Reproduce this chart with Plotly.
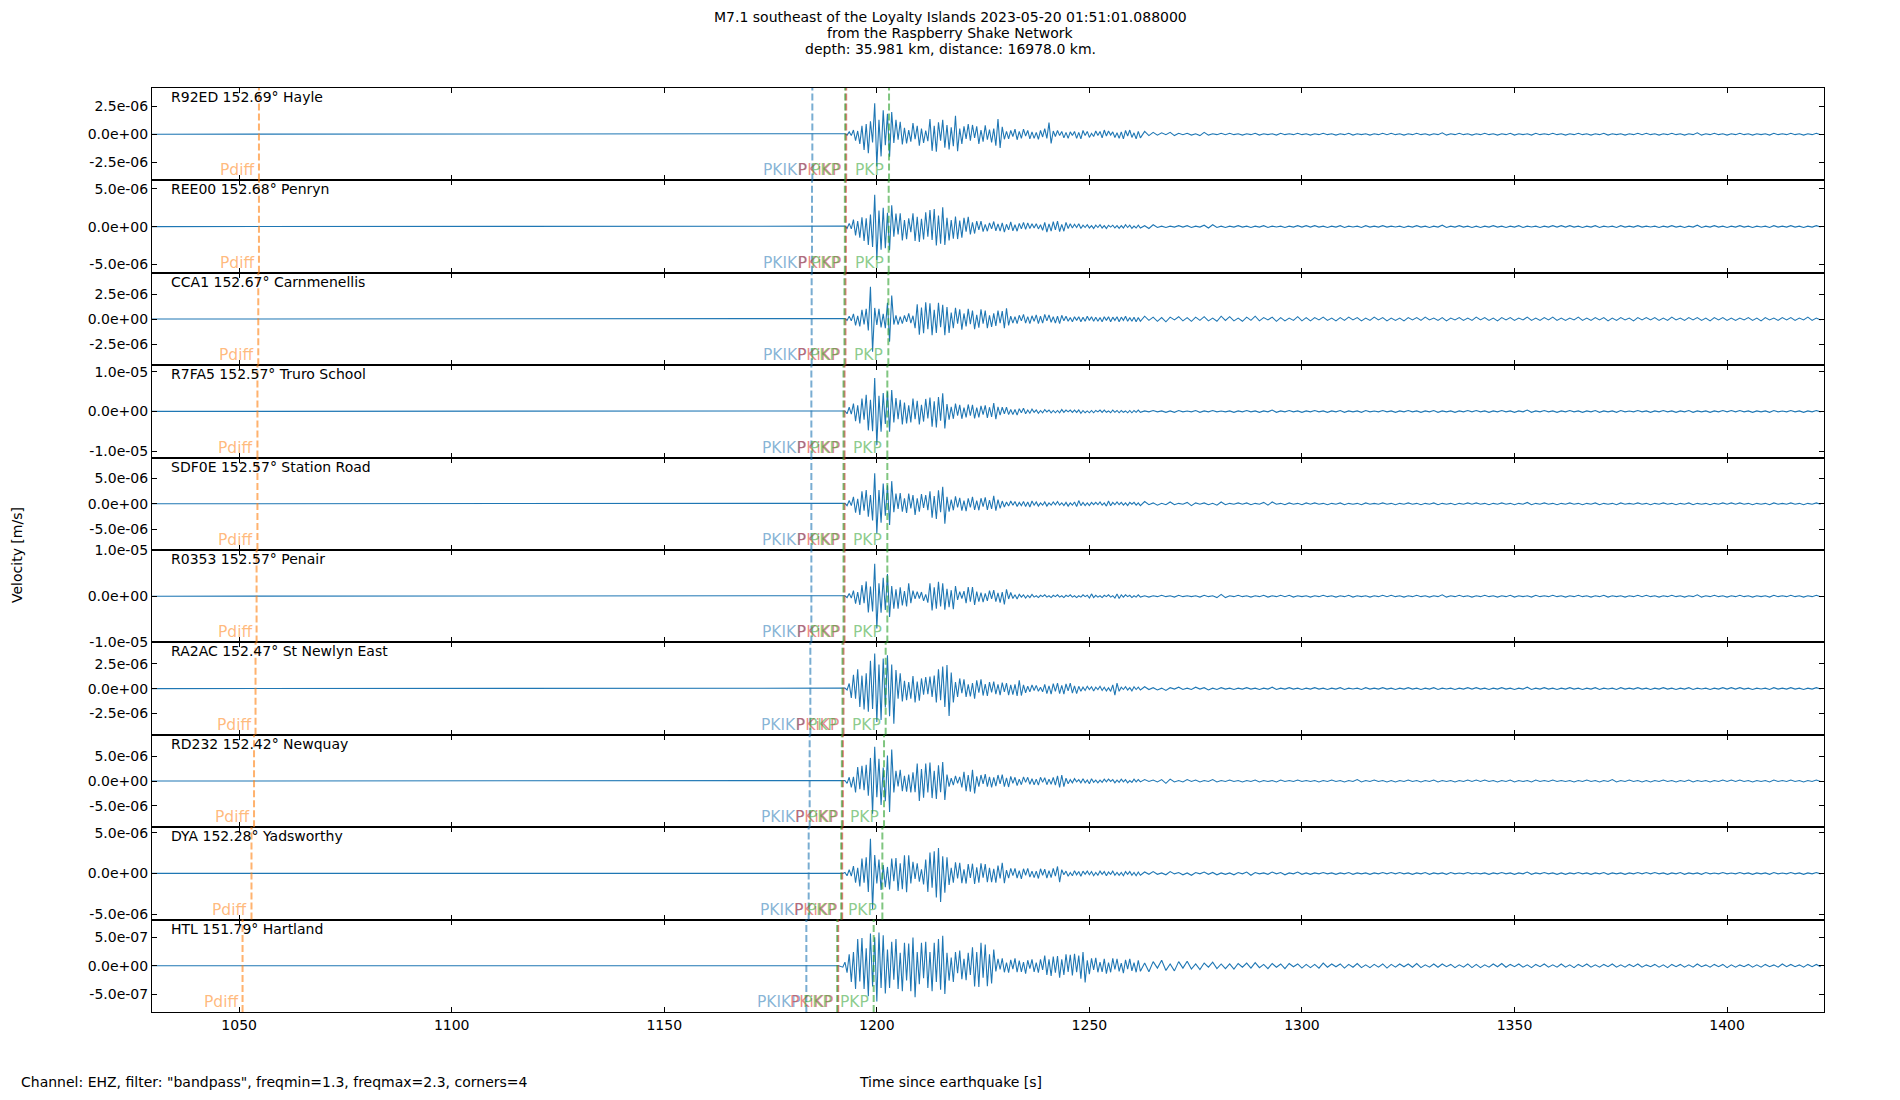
import plotly.graph_objects as go
from plotly.subplots import make_subplots

# ── text ────────────────────────────────────────────────────────────────
TITLE_LINES = [
    "M7.1 southeast of the Loyalty Islands 2023-05-20 01:51:01.088000",
    "from the Raspberry Shake Network",
    "depth: 35.981 km, distance: 16978.0 km.",
]
FOOTNOTE = 'Channel: EHZ, filter: "bandpass", freqmin=1.3, freqmax=2.3, corners=4'
X_TITLE = "Time since earthquake [s]"
Y_TITLE = "Velocity [m/s]"

# ── stations (top to bottom) ────────────────────────────────────────────
STATIONS = ["R92ED", "REE00", "CCA1", "R7FA5", "SDF0E", "R0353", "RA2AC", "RD232", "DYA", "HTL"]
DISTANCES = [152.69, 152.68, 152.67, 152.57, 152.57, 152.57, 152.47, 152.42, 152.28, 151.79]
PLACES = ["Hayle", "Penryn", "Carnmenellis", "Truro School", "Station Road", "Penair",
          "St Newlyn East", "Newquay", "Yadsworthy", "Hartland"]

# half height of each panel's velocity axis [m/s] and its tick step
FULL_SCALE = [4.12e-6, 6.13e-6, 4.62e-6, 1.164e-5, 9.13e-6, 1.003e-5, 4.68e-6, 9.35e-6, 5.68e-6, 8.05e-7]
Y_TICK = [2.5e-6, 5e-6, 2.5e-6, 1e-5, 5e-6, 1e-5, 2.5e-6, 5e-6, 5e-6, 5e-7]

X_RANGE = [1029.5, 1422.8]
X_TICKS = [1050, 1100, 1150, 1200, 1250, 1300, 1350, 1400]

# ── predicted arrivals [s after origin] ─────────────────────────────────
PDIFF_T = [1054.66, 1054.66, 1054.5, 1054.3, 1054.3, 1054.1, 1053.85, 1053.5, 1052.9, 1050.8]
PKIKP_T = [1184.83, 1184.75, 1184.67, 1184.6, 1184.6, 1184.6, 1184.36, 1184.2, 1183.97, 1183.42]
PKIKP_INNER_T = [1192.79, 1192.72, 1192.62, 1192.4, 1192.4, 1192.4, 1192.16, 1192.01, 1191.85, 1190.91]  # PKiKP
PKP1_T = [1192.55, 1192.48, 1192.38, 1192.16, 1192.16, 1192.16, 1191.92, 1191.77, 1191.61, 1190.67]
PKP2_T = [1202.87, 1202.79, 1202.71, 1202.47, 1202.47, 1202.47, 1202.08, 1201.69, 1201.3, 1199.26]

# ── waveforms: signed peaks in % of the panel full scale ────────────────
RECORD_START = 1029.5
QUIET_END = 1191.0                  # record is flat until here
MAIN_START, MAIN_DT = 1192.0, 0.5   # coda, one peak every 0.5 s
TAIL_START, TAIL_DT = 1262.0, 1.0   # late noise, one peak every 1 s

main_R92ED = [
    0, 1, -2, 5, -3, 9, -14, 7, -21, 18,
    -34, 22, -41, 28, -18, 67, -70, 31, -48, 52,
    -24, 44, -49, 48, -19, 31, -12, 27, -22, 14,
    -20, 9, -16, 24, -11, 18, -25, 12, -19, 8,
    -15, 33, -36, 18, -38, 26, -14, 31, -29, 20,
    -33, 15, -26, 40, -37, 12, -21, 17, -10, 22,
    -14, 20, -8, 17, -21, 9, -16, 19, -12, 10,
    -18, 12, -25, 33, -30, 16, -11, 6, -10, 8,
    -5, 11, -12, 6, -9, 11, -4, 8, -10, 5,
    -9, 4, -11, 8, -6, 12, -9, 25, -20, 7,
    -5, 8, -3, 6, -8, 4, -9, 5, -3, 6,
    -9, 4, -10, 8, -3, 6, -7, 2, -5, 7,
    -3, 6, -8, 9, -4, 7, -2, 5, -7, 3,
    -9, 5, -10, 8, -4, 9, -7, 3, -10, 6,
]
tail_R92ED = [
    -8, 6, -3, 4, -2, 3, -1, 4, -3, 2, -1, 2, -2, 1, -3, 4, -2, 1, -1, 2,
    -1, 2, -1, 1, -2, 1, -1, 2, -2, 1, -1, 1, -2, 2, -1, 1, -1, 2, -1, 1,
    -2, 1, -1, 2, -1, 1, -2, 1, -1, 2, -2, 1, -1, 1, -2, 1, -1, 2, -1, 2,
    -1, 1, -2, 1, -1, 2, -1, 1, -2, 1, -1, 3, -2, 1, -1, 2, -1, 1, -2, 1,
    -1, 2, -1, 1, -2, 1, -1, 2, -2, 1, -1, 1, -2, 2, -1, 1, -1, 2, -1, 1,
    -2, 1, -1, 2, -1, 1, -2, 1, -1, 2, -2, 1, -1, 1, -2, 1, -1, 2, -1, 2,
    -1, 1, -2, 1, -1, 2, -1, 1, -2, 1, -1, 3, -2, 1, -1, 2, -1, 1, -2, 1,
    -1, 2, -1, 1, -2, 1, -1, 1, -2, 2, -1, 1, -1, 2, -1, 1, -2, 1, -1, 2, -1,
]

main_REE00 = [
    0, 1, -4, 7, -5, 15, -19, 12, -24, 20,
    -31, 18, -40, 26, -44, 69, -72, 35, -50, 41,
    -47, 30, -51, 46, -22, 28, -17, 29, -30, 14,
    -27, 18, -12, 29, -31, 21, -33, 17, -28, 31,
    -22, 36, -29, 38, -41, 24, -37, 42, -40, 19,
    -30, 14, -26, 22, -27, 13, -24, 19, -11, 21,
    -17, 9, -15, 12, -7, 12, -11, 5, -10, 8,
    -5, 11, -9, 6, -10, 8, -12, 5, -7, 10,
    -9, 4, -10, 7, -5, 9, -6, 8, -4, 6,
    -3, 6, -5, 4, -8, 9, -12, 6, -10, 11,
    -7, 12, -11, 5, -10, 9, -4, 6, -3, 5,
    -2, 6, -4, 3, -2, 4, -3, 2, -4, 3,
    -2, 4, -3, 2, -4, 3, -1, 3, -3, 2,
    -4, 2, -3, 4, -2, 3, -4, 1, -3, 3,
]
tail_REE00 = [
    -3, 2, -4, 4, -2, 1, -2, 1, -1, 2, -1, 2, -2, 1, -1, 3, -3, 4, -2, 1,
    -2, 1, -1, 2, -1, 1, -2, 1, -1, 2, -2, 1, -1, 1, -2, 1, -1, 2, -1, 2,
    -1, 2, -1, 1, -2, 1, -1, 2, -2, 1, -1, 1, -2, 2, -1, 1, -1, 2, -1, 1,
    -1, 1, -2, 1, -1, 2, -1, 1, -2, 1, -1, 3, -2, 1, -1, 2, -1, 1, -2, 1,
    -2, 1, -1, 2, -1, 1, -2, 1, -1, 2, -2, 1, -1, 1, -2, 1, -1, 2, -1, 2,
    -1, 2, -1, 1, -2, 1, -1, 2, -2, 1, -1, 1, -2, 2, -1, 1, -1, 2, -1, 1,
    -1, 1, -2, 1, -1, 2, -1, 1, -2, 1, -1, 3, -2, 1, -1, 2, -1, 1, -2, 1,
    -1, 2, -1, 1, -2, 1, -1, 1, -2, 2, -1, 1, -1, 2, -1, 1, -2, 1, -1, 2, -1,
]

main_CCA1 = [
    0, 1, -3, 6, -4, 11, -14, 7, -16, 20,
    -12, 22, -25, 70, -71, 24, -13, 22, -18, 11,
    -20, 35, -49, 51, -12, 8, -12, 5, -10, 8,
    -6, 12, -9, 7, -20, 32, -34, 25, -31, 36,
    -22, 34, -35, 20, -30, 35, -18, 31, -35, 26,
    -30, 14, -20, 24, -10, 21, -23, 12, -16, 22,
    -11, 18, -22, 9, -19, 21, -10, 18, -20, 8,
    -17, 12, -15, 18, -9, 17, -20, 23, -14, 6,
    -9, 5, -10, 8, -4, 10, -9, 5, -10, 7,
    -5, 9, -10, 6, -9, 10, -4, 9, -7, 5,
    -9, 6, -10, 8, -4, 6, -5, 3, -6, 5,
    -3, 5, -6, 4, -5, 6, -3, 5, -5, 4,
    -5, 3, -6, 5, -3, 5, -6, 4, -3, 5,
    -6, 4, -3, 6, -5, 3, -5, 4, -6, 3,
]
tail_CCA1 = [
    -5, 6, -3, 4, -5, 3, -6, 4, -2, 5, -4, 3, -5, 4, -3, 5, -4, 2, -5, 6,
    -3, 5, -4, 2, -5, 4, -3, 6, -4, 3, -2, 4, -5, 3, -4, 2, -3, 5, -4, 3,
    -4, 3, -2, 4, -3, 2, -4, 3, -3, 4, -2, 3, -4, 2, -3, 4, -2, 3, -4, 2,
    -3, 2, -4, 3, -2, 3, -3, 4, -2, 2, -3, 3, -4, 2, -2, 3, -3, 2, -3, 4,
    -2, 3, -3, 2, -4, 3, -2, 3, -3, 2, -2, 4, -3, 2, -3, 3, -2, 4, -3, 2,
    -3, 2, -2, 4, -3, 2, -3, 3, -2, 3, -4, 2, -3, 3, -2, 2, -4, 3, -2, 3,
    -2, 3, -3, 2, -3, 4, -2, 2, -3, 3, -2, 3, -3, 2, -4, 3, -2, 3, -3, 2,
    -3, 2, -2, 3, -3, 2, -4, 3, -2, 2, -3, 3, -2, 3, -3, 2, -2, 4, -3, 2, -2,
]

main_R7FA5 = [
    0, 1, -5, 9, -6, 17, -21, 13, -26, 28,
    -18, 36, -41, 25, -43, 72, -73, 34, -44, 40,
    -27, 43, -44, 46, -24, 29, -17, 25, -28, 19,
    -26, 13, -24, 28, -17, 23, -28, 14, -22, 27,
    -15, 30, -33, 22, -35, 31, -20, 39, -37, 16,
    -18, 10, -16, 17, -9, 14, -16, 8, -13, 15,
    -9, 14, -15, 8, -13, 12, -7, 13, -14, 9,
    -12, 18, -17, 10, -8, 9, -5, 9, -7, 4,
    -7, 4, -8, 6, -3, 7, -5, 3, -4, 5,
    -2, 3, -4, 2, -3, 4, -1, 3, -3, 2,
    -3, 2, -3, 4, -2, 3, -1, 3, -2, 3,
    -2, 3, -4, 2, -3, 1, -3, 2, -3, 2,
    -1, 3, -2, 3, -2, 1, -3, 3, -2, 2,
    -3, 2, -2, 1, -3, 2, -3, 2, -2, 3,
]
tail_R7FA5 = [
    -2, 1, -1, 2, -1, 1, -2, 1, -2, 2, -1, 1, -1, 2, -2, 1, -1, 2, -1, 1,
    -1, 1, -2, 1, -1, 2, -1, 1, -2, 1, -1, 3, -2, 1, -1, 2, -1, 1, -2, 1,
    -1, 2, -1, 1, -2, 1, -1, 2, -2, 1, -1, 1, -2, 2, -1, 1, -1, 2, -1, 1,
    -2, 1, -1, 2, -1, 1, -2, 1, -1, 2, -2, 1, -1, 1, -2, 1, -1, 2, -1, 2,
    -1, 1, -2, 1, -1, 2, -1, 1, -2, 1, -1, 3, -2, 1, -1, 2, -1, 1, -2, 1,
    -1, 2, -1, 1, -2, 1, -1, 2, -2, 1, -1, 1, -2, 2, -1, 1, -1, 2, -1, 1,
    -2, 1, -1, 2, -1, 1, -2, 1, -1, 2, -2, 1, -1, 1, -2, 1, -1, 2, -1, 2,
    -1, 2, -1, 1, -2, 1, -1, 1, -2, 2, -1, 1, -1, 2, -1, 1, -2, 1, -1, 2, -1,
]

main_SDF0E = [
    0, 1, -4, 7, -4, 15, -19, 11, -24, 27,
    -15, 30, -28, 19, -36, 66, -64, 30, -41, 44,
    -26, 40, -46, 49, -18, 22, -11, 23, -17, 12,
    -20, 22, -10, 19, -24, 12, -17, 21, -9, 19,
    -14, 27, -30, 17, -33, 29, -18, 37, -43, 15,
    -17, 9, -14, 16, -8, 13, -15, 7, -16, 12,
    -8, 15, -13, 7, -14, 12, -6, 14, -13, 8,
    -11, 17, -15, 9, -10, 6, -7, 4, -5, 6,
    -3, 5, -6, 3, -4, 5, -6, 4, -7, 6,
    -3, 4, -5, 2, -3, 4, -5, 2, -3, 4,
    -2, 5, -3, 2, -4, 3, -5, 2, -3, 4,
    -6, 7, -4, 3, -4, 2, -4, 3, -2, 3,
    -2, 4, -3, 2, -5, 6, -4, 3, -2, 4,
    -2, 3, -3, 2, -4, 3, -1, 3, -3, 2,
]
tail_SDF0E = [
    -4, 5, -2, 2, -3, 1, -2, 4, -2, 1, -1, 3, -4, 2, -1, 2, -2, 1, -3, 4,
    -2, 1, -1, 2, -1, 2, -2, 1, -1, 3, -3, 4, -1, 1, -2, 2, -1, 1, -2, 2,
    -1, 2, -1, 1, -2, 1, -1, 2, -2, 1, -1, 1, -2, 2, -1, 1, -1, 2, -1, 1,
    -2, 1, -1, 2, -1, 1, -2, 1, -1, 2, -2, 1, -1, 1, -2, 1, -1, 2, -1, 2,
    -1, 1, -2, 1, -1, 2, -1, 1, -2, 1, -1, 3, -2, 1, -1, 2, -1, 1, -2, 1,
    -1, 2, -1, 1, -2, 1, -1, 2, -2, 1, -1, 1, -2, 2, -1, 1, -1, 2, -1, 1,
    -2, 1, -1, 2, -1, 1, -2, 1, -1, 2, -2, 1, -1, 1, -2, 1, -1, 2, -1, 2,
    -1, 2, -1, 1, -2, 1, -1, 1, -2, 2, -1, 1, -1, 2, -1, 1, -2, 1, -1, 2, -1,
]

main_R0353 = [
    0, 1, -3, 6, -4, 12, -16, 9, -19, 24,
    -15, 32, -35, 21, -33, 70, -70, 28, -36, 40,
    -30, 48, -45, 22, -27, 15, -27, 19, -20, 11,
    -22, 28, -15, 12, -6, 10, -5, 9, -10, 4,
    -14, 28, -31, 19, -27, 31, -22, 28, -29, 16,
    -24, 13, -28, 22, -8, 10, -5, 11, -15, 20,
    -12, 20, -19, 10, -12, 8, -13, 6, -10, 12,
    -6, 13, -12, 7, -14, 9, -18, 15, -6, 8,
    -5, 3, -6, 4, -2, 3, -4, 2, -3, 4,
    -2, 1, -3, 2, -1, 3, -2, 1, -3, 2,
    -1, 3, -2, 1, -3, 2, -1, 3, -2, 1,
    -3, 1, -2, 3, -1, 2, -4, 5, -3, 2,
    -2, 1, -3, 2, -1, 3, -2, 1, -4, 5,
    -5, 3, -2, 3, -1, 2, -3, 1, -2, 3,
]
tail_R0353 = [
    -2, 1, -2, 1, -1, 2, -1, 1, -2, 2, -1, 1, -1, 1, -2, 2, -1, 1, -3, 4,
    -3, 1, -1, 2, -1, 1, -2, 1, -1, 2, -2, 1, -1, 2, -1, 2, -2, 1, -1, 1,
    -2, 1, -1, 2, -1, 1, -2, 1, -1, 2, -2, 1, -1, 1, -2, 1, -1, 2, -1, 2,
    -1, 1, -2, 1, -1, 2, -1, 1, -2, 1, -1, 3, -2, 1, -1, 2, -1, 1, -2, 1,
    -1, 2, -1, 1, -2, 1, -1, 2, -2, 1, -1, 1, -2, 2, -1, 1, -1, 2, -1, 1,
    -2, 1, -1, 2, -1, 1, -2, 1, -1, 2, -2, 1, -1, 1, -2, 1, -1, 2, -1, 2,
    -1, 1, -2, 1, -1, 2, -1, 1, -2, 1, -1, 3, -2, 1, -1, 2, -1, 1, -2, 1,
    -1, 2, -1, 1, -2, 1, -1, 1, -2, 2, -1, 1, -1, 2, -1, 1, -2, 1, -1, 2, -1,
]

main_RA2AC = [
    0, 1, -3, 11, -20, 30, -22, 42, -40, 28,
    -45, 33, -50, 60, -44, 76, -72, 52, -68, 65,
    -41, 72, -60, 52, -76, 40, -22, 33, -28, 17,
    -25, 14, -22, 27, -30, 15, -26, 22, -13, 25,
    -12, 26, -18, 28, -30, 42, -25, 48, -40, 51,
    -59, 35, -30, 14, -18, 22, -10, 20, -18, 9,
    -17, 12, -22, 18, -9, 20, -15, 10, -16, 14,
    -8, 15, -12, 9, -14, 13, -7, 12, -14, 8,
    -13, 9, -16, 18, -15, 8, -9, 5, -7, 8,
    -4, 7, -6, 3, -7, 9, -11, 6, -12, 11,
    -6, 12, -11, 7, -12, 10, -5, 12, -10, 6,
    -11, 5, -6, 3, -4, 5, -2, 4, -5, 3,
    -2, 5, -4, 3, -5, 2, -6, 8, -14, 12,
    -6, 3, -2, 4, -3, 2, -5, 4, -2, 3,
]
tail_RA2AC = [
    -3, 4, -2, 2, -3, 1, -4, 2, -1, 3, -2, 1, -2, 3, -1, 2, -3, 1, -2, 2,
    -1, 1, -2, 1, -1, 2, -1, 1, -2, 1, -1, 3, -2, 1, -1, 2, -1, 1, -2, 1,
    -1, 2, -1, 1, -2, 1, -1, 2, -2, 1, -1, 1, -2, 2, -1, 1, -1, 2, -1, 1,
    -2, 1, -1, 2, -1, 1, -2, 1, -1, 2, -2, 1, -1, 1, -2, 1, -1, 2, -1, 2,
    -1, 1, -2, 1, -1, 2, -1, 1, -2, 1, -1, 3, -2, 1, -1, 2, -1, 1, -2, 1,
    -1, 2, -1, 1, -2, 1, -1, 2, -2, 1, -1, 1, -2, 2, -1, 1, -1, 2, -1, 1,
    -2, 1, -1, 2, -1, 1, -2, 1, -1, 2, -2, 1, -1, 1, -2, 1, -1, 2, -1, 2,
    -1, 2, -1, 1, -2, 1, -1, 1, -2, 2, -1, 1, -1, 2, -1, 1, -2, 1, -1, 2, -1,
]

main_RD232 = [
    0, 1, -5, 8, -14, 9, -25, 30, -18, 33,
    -20, 35, -32, 50, -71, 74, -35, 48, -52, 29,
    -44, 55, -67, 68, -25, 22, -12, 24, -22, 11,
    -23, 14, -25, 19, -24, 38, -43, 26, -36, 38,
    -25, 40, -37, 22, -39, 34, -24, 41, -41, 14,
    -12, 6, -9, 11, -5, 9, -14, 20, -22, 13,
    -23, 24, -27, 10, -12, 13, -6, 15, -12, 9,
    -14, 8, -11, 13, -6, 14, -12, 7, -13, 10,
    -5, 8, -10, 4, -8, 9, -3, 8, -7, 5,
    -8, 4, -9, 8, -3, 7, -8, 4, -7, 8,
    -9, 11, -14, 13, -12, 6, -6, 3, -4, 5,
    -2, 3, -4, 5, -4, 2, -6, 5, -3, 2,
    -4, 2, -3, 4, -2, 4, -1, 3, -4, 2,
    -3, 4, -2, 3, -4, 1, -3, 4, -2, 3,
]
tail_RD232 = [
    -2, 3, -1, 2, -2, 3, -5, 4, -2, 1, -2, 3, -1, 2, -2, 1, -1, 3, -2, 1,
    -1, 2, -1, 1, -2, 1, -1, 2, -2, 1, -1, 1, -2, 2, -1, 1, -1, 2, -1, 1,
    -1, 1, -2, 1, -1, 2, -1, 1, -2, 1, -1, 3, -2, 1, -1, 2, -1, 1, -2, 1,
    -2, 1, -1, 2, -1, 1, -2, 1, -1, 2, -2, 1, -1, 1, -2, 1, -1, 2, -1, 2,
    -1, 2, -1, 1, -2, 1, -1, 2, -2, 1, -1, 1, -2, 2, -1, 1, -1, 2, -1, 1,
    -1, 1, -2, 1, -1, 2, -1, 1, -2, 1, -1, 3, -2, 1, -1, 2, -1, 1, -2, 1,
    -2, 1, -1, 2, -1, 1, -2, 1, -1, 2, -2, 1, -1, 1, -2, 1, -1, 2, -1, 2,
    -1, 2, -1, 1, -2, 1, -1, 1, -2, 2, -1, 1, -1, 2, -1, 1, -2, 1, -1, 2, -1,
]

main_DYA = [
    0, 2, -5, 8, -6, 16, -20, 12, -28, 32,
    -20, 35, -40, 75, -77, 40, -22, 30, -36, 18,
    -30, 14, -35, 32, -17, 33, -38, 22, -34, 39,
    -41, 39, -22, 25, -12, 22, -18, 9, -24, 30,
    -40, 45, -31, 48, -52, 55, -62, 37, -42, 35,
    -25, 12, -20, 24, -11, 23, -21, 9, -22, 20,
    -10, 21, -23, 13, -20, 22, -9, 20, -19, 12,
    -19, 10, -20, 17, -11, 23, -21, 7, -10, 11,
    -5, 11, -10, 6, -12, 10, -4, 11, -8, 5,
    -9, 5, -11, 10, -4, 9, -10, 6, -9, 11,
    -6, 15, -19, 8, -3, 5, -6, 2, -5, 6,
    -3, 4, -6, 5, -2, 5, -3, 4, -5, 2,
    -4, 5, -2, 4, -5, 3, -2, 5, -4, 2,
    -4, 2, -5, 4, -2, 4, -4, 2, -5, 3,
]
tail_DYA = [
    -4, 3, -2, 4, -2, 1, -3, 4, -1, 2, -3, 1, -4, 2, -1, 3, -2, 2, -3, 1,
    -2, 1, -3, 2, -1, 3, -4, 2, -1, 1, -2, 3, -1, 2, -3, 1, -1, 3, -2, 1,
    -2, 1, -1, 2, -1, 1, -2, 1, -1, 2, -2, 1, -1, 1, -2, 1, -1, 2, -1, 2,
    -1, 2, -1, 1, -2, 1, -1, 2, -2, 1, -1, 1, -2, 2, -1, 1, -1, 2, -1, 1,
    -1, 1, -2, 1, -1, 2, -1, 1, -2, 1, -1, 3, -2, 1, -1, 2, -1, 1, -2, 1,
    -2, 1, -1, 2, -1, 1, -2, 1, -1, 2, -2, 1, -1, 1, -2, 1, -1, 2, -1, 2,
    -1, 2, -1, 1, -2, 1, -1, 2, -2, 1, -1, 1, -2, 2, -1, 1, -1, 2, -1, 1,
    -1, 2, -1, 1, -2, 1, -1, 1, -2, 2, -1, 1, -1, 2, -1, 1, -2, 1, -1, 2, -1,
]

main_HTL = [
    -3, 8, -15, 25, -35, 30, -50, 58, -34, 60,
    -50, 38, -66, 70, -45, 62, -77, 72, -48, 66,
    -60, 35, -48, 52, -30, 58, -50, 28, -55, 50,
    -32, 48, -55, 61, -68, 30, -40, 50, -27, 52,
    -48, 30, -55, 50, -35, 58, -52, 65, -61, 28,
    -32, 18, -35, 30, -16, 33, -29, 15, -31, 28,
    -20, 40, -45, 30, -46, 50, -26, 46, -44, 25,
    -38, 35, -12, 15, -8, 16, -14, 7, -15, 13,
    -7, 16, -14, 11, -13, 8, -17, 12, -6, 14,
    -13, 7, -15, 14, -9, 22, -20, 14, -22, 20,
    -15, 21, -26, 14, -20, 25, -13, 24, -21, 26,
    -14, 22, -28, 30, -36, 12, -18, 16, -9, 17,
    -14, 8, -13, 15, -17, 7, -14, 16, -8, 15,
    -12, 6, -16, 13, -7, 15, -11, 7, -14, 12,
]
tail_HTL = [
    -12, 6, -13, 9, -5, 12, -10, 4, -11, 9, -5, 10, -7, 4, -8, 6, -3, 8, -6, 4,
    -6, 4, -7, 5, -3, 6, -5, 7, -4, 3, -6, 5, -3, 4, -6, 5, -2, 4, -5, 3,
    -4, 3, -5, 6, -3, 4, -2, 4, -5, 3, -3, 5, -4, 2, -4, 3, -3, 4, -5, 3,
    -3, 4, -2, 4, -3, 5, -4, 2, -3, 4, -3, 4, -2, 3, -4, 2, -3, 4, -4, 3,
    -4, 2, -3, 4, -2, 5, -3, 3, -2, 4, -3, 2, -4, 3, -2, 4, -3, 2, -3, 4,
    -3, 2, -4, 3, -2, 4, -3, 2, -3, 3, -2, 4, -3, 2, -3, 3, -2, 4, -3, 2,
    -2, 3, -3, 2, -4, 3, -2, 3, -3, 2, -3, 4, -2, 2, -3, 3, -2, 3, -4, 2,
    -3, 2, -2, 3, -3, 2, -3, 3, -2, 2, -3, 4, -2, 3, -2, 2, -3, 3, -2, 3, -2,
]

MAIN = [main_R92ED, main_REE00, main_CCA1, main_R7FA5, main_SDF0E,
        main_R0353, main_RA2AC, main_RD232, main_DYA, main_HTL]
TAIL = [tail_R92ED, tail_REE00, tail_CCA1, tail_R7FA5, tail_SDF0E,
        tail_R0353, tail_RA2AC, tail_RD232, tail_DYA, tail_HTL]

# ── styles ──────────────────────────────────────────────────────────────
FONT = "DejaVu Sans"
TRACE_COLOR = "#1f77b4"
PHASE_RGB = {"Pdiff": "255,127,14", "PKIKP": "31,119,180", "PKiKP": "214,39,40", "PKP": "44,160,44"}

W, H = 1900, 1100
PAGE_OFFSET = 8                       # browser body margin around the figure
PLOT_BOX = (152, 1824, 88, 1012)      # left, right, top, bottom on the screen
L = PLOT_BOX[0] - PAGE_OFFSET
R = W - (PLOT_BOX[1] - PAGE_OFFSET)
T = PLOT_BOX[2] - PAGE_OFFSET
B = H - (PLOT_BOX[3] - PAGE_OFFSET)
n = len(STATIONS)


def px_x(x):  # screen pixel -> paper x
    return (x - PLOT_BOX[0]) / (PLOT_BOX[1] - PLOT_BOX[0])


def px_y(y):  # screen pixel -> paper y
    return (PLOT_BOX[3] - y) / (PLOT_BOX[3] - PLOT_BOX[2])


fig = make_subplots(rows=n, cols=1, shared_xaxes=True, vertical_spacing=0)

for i in range(n):
    row = i + 1
    xs = [RECORD_START, QUIET_END]
    xs += [MAIN_START + k * MAIN_DT for k in range(len(MAIN[i]))]
    xs += [TAIL_START + k * TAIL_DT for k in range(len(TAIL[i]))]
    ys = [0.0, 0.0] + [v * FULL_SCALE[i] / 100 for v in MAIN[i] + TAIL[i]]
    fig.add_trace(
        go.Scatter(x=xs, y=ys, mode="lines", line=dict(color=TRACE_COLOR, width=1.1),
                   hoverinfo="skip", showlegend=False),
        row=row, col=1,
    )

    xa = "x" if row == 1 else f"x{row}"
    ya = "y" if row == 1 else f"y{row}"

    fig.add_annotation(
        text=f"{STATIONS[i]} {DISTANCES[i]:.2f}° {PLACES[i]}",
        xref=f"{xa} domain", yref=f"{ya} domain", x=0.01, y=1,
        xanchor="left", yanchor="top", yshift=1, showarrow=False,
        font=dict(family=FONT, size=14, color="black"),
    )

    phases = [("Pdiff", PDIFF_T[i]), ("PKIKP", PKIKP_T[i]), ("PKiKP", PKIKP_INNER_T[i]),
              ("PKP", PKP1_T[i]), ("PKP", PKP2_T[i])]
    for name, t in phases:
        rgb = PHASE_RGB[name]
        fig.add_shape(
            type="line", xref=xa, yref=f"{ya} domain", x0=t, x1=t, y0=0, y1=1,
            line=dict(color=f"rgba({rgb},0.6)", width=2, dash="7px,3px"), layer="above",
        )
        fig.add_annotation(
            text=name, xref=xa, yref=f"{ya} domain", x=t, y=0,
            xanchor="right", yanchor="bottom", xshift=-3, yshift=-1, showarrow=False,
            font=dict(family=FONT, size=15.5, color=f"rgba({rgb},0.55)"),
        )

    s = Y_TICK[i]
    fig.update_yaxes(
        row=row, col=1,
        range=[-FULL_SCALE[i], FULL_SCALE[i]],
        tickvals=[-s, 0, s], ticktext=[f"{v:.1e}" for v in (-s, 0.0, s)],
        ticks="inside", ticklen=5, tickwidth=1, tickcolor="black",
        showline=True, linecolor="black", linewidth=1.1, mirror="ticks",
        showgrid=False, zeroline=False,
        tickfont=dict(family=FONT, size=14, color="black"),
    )

fig.update_xaxes(
    range=X_RANGE, tickvals=X_TICKS, ticks="inside", ticklen=5, tickwidth=1, tickcolor="black",
    showline=True, linecolor="black", linewidth=1.1, mirror="ticks",
    showgrid=False, zeroline=False, showticklabels=False,
    tickfont=dict(family=FONT, size=14, color="black"),
)
fig.update_xaxes(row=n, col=1, showticklabels=True)

# title, footnote and axis titles placed in screen pixels
for line, y in zip(TITLE_LINES, [17, 33, 49]):
    fig.add_annotation(text=line, xref="paper", yref="paper", x=px_x(950), y=px_y(y),
                       xanchor="center", yanchor="middle", showarrow=False,
                       font=dict(family=FONT, size=14, color="black"))
fig.add_annotation(text=FOOTNOTE, xref="paper", yref="paper", x=px_x(19), y=px_y(1082),
                   xanchor="left", yanchor="middle", showarrow=False,
                   font=dict(family=FONT, size=14, color="black"))
fig.add_annotation(text=X_TITLE, xref="paper", yref="paper", x=px_x(950), y=px_y(1082),
                   xanchor="center", yanchor="middle", showarrow=False,
                   font=dict(family=FONT, size=14, color="black"))
fig.add_annotation(text=Y_TITLE, xref="paper", yref="paper", x=px_x(17), y=px_y(555),
                   xanchor="center", yanchor="middle", textangle=-90, showarrow=False,
                   font=dict(family=FONT, size=14, color="black"))

fig.update_layout(
    width=W, height=H,
    margin=dict(l=L, r=R, t=T, b=B),
    paper_bgcolor="white", plot_bgcolor="white",
    showlegend=False,
    font=dict(family=FONT, size=14, color="black"),
)

fig.write_html("out.html")
